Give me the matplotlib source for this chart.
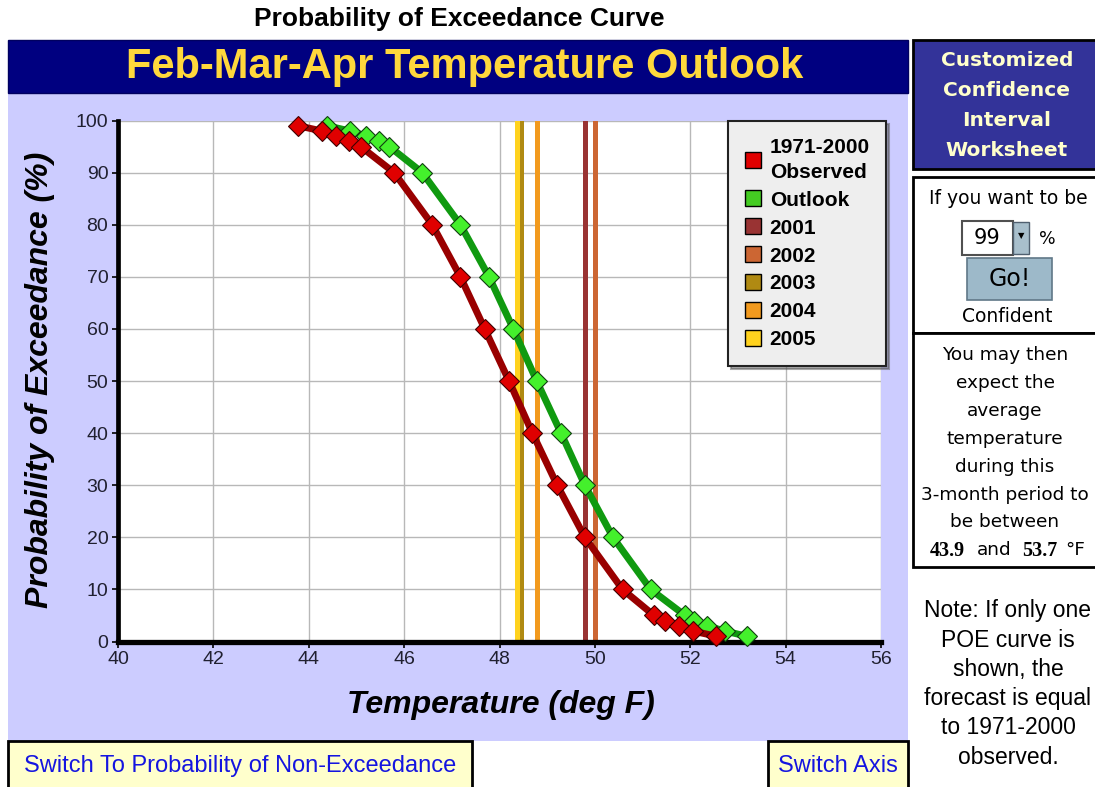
import matplotlib
matplotlib.use('Agg')
import matplotlib.pyplot as plt
from matplotlib.patches import Rectangle, Patch
from matplotlib import font_manager

# ---- data ----
poe_levels = [99, 98, 97, 96, 95, 90, 80, 70, 60, 50, 40, 30, 20, 10, 5, 4, 3, 2, 1]
observed_temps = [43.77, 44.27, 44.57, 44.85, 45.09, 45.79, 46.59, 47.18, 47.69, 48.20,
                  48.69, 49.21, 49.79, 50.58, 51.24, 51.47, 51.77, 52.06, 52.55]
outlook_temps = [44.38, 44.86, 45.21, 45.48, 45.69, 46.38, 47.18, 47.78, 48.29, 48.78,
                 49.29, 49.79, 50.38, 51.17, 51.89, 52.08, 52.35, 52.73, 53.19]
years = ['2001', '2002', '2003', '2004', '2005']
year_temps = [49.79, 50.0, 48.46, 48.78, 48.36]
year_colors = ['#993333', '#CC6633', '#B08A12', '#F29A1E', '#FFD21E']
x_ticks = list(range(40, 57, 2))
y_ticks = list(range(0, 101, 10))

W, H = 1095, 787
names = {f.name for f in font_manager.fontManager.ttflist}
narrow = ['Liberation Sans Narrow', 'Liberation Sans'] if 'Liberation Sans Narrow' in names else ['Liberation Sans']
sans = ['Liberation Sans', 'DejaVu Sans']
wide = ['DejaVu Sans']


def fx(px):
    return px / W


def fy(py):
    return 1 - py / H


def box(x0, y0, x1, y1, fc, ec='black', lw=1.5, z=-5):
    fig.patches.append(Rectangle((fx(x0), fy(y1)), fx(x1) - fx(x0), fy(y0) - fy(y1),
                                 transform=fig.transFigure, facecolor=fc, edgecolor=ec,
                                 linewidth=lw, zorder=z))


def txt(px, py, s, size=11, **kw):
    kw.setdefault('ha', 'center')
    kw.setdefault('va', 'center')
    kw.setdefault('family', sans)
    fig.text(fx(px), fy(py), s, fontsize=size, **kw)


fig = plt.figure(figsize=(W / 100, H / 100), dpi=100)
fig.patch.set_facecolor('white')

# panels
box(8, 93, 908, 741, '#CCCCFF', ec='none', lw=0)
box(8, 40, 908, 93, '#000080', ec='#000060', lw=1)
txt(459, 19, 'Probability of Exceedance Curve', size=19, weight='bold', family=narrow)
txt(465, 67, 'Feb-Mar-Apr Temperature Outlook', size=30, weight='bold', color='#FFD83C')

# main plot
ax = fig.add_axes([fx(118), fy(641.5), fx(881) - fx(118), (641.5 - 120.5) / H])
ax.set_facecolor('white')
for t, c in zip(year_temps, year_colors):
    ax.axvline(t, color=c, lw=3.6, zorder=2)
ax.plot(observed_temps, poe_levels, color='#990000', lw=5, marker='D', ms=10.5,
        mfc='#E00000', mec='#400000', mew=0.8, zorder=4, clip_on=False)
ax.plot(outlook_temps, poe_levels, color='#109A10', lw=5, marker='D', ms=10.5,
        mfc='#44F02C', mec='#104010', mew=0.8, zorder=3, clip_on=False)
ax.set_xlim(40, 56)
ax.set_ylim(0, 100)
ax.set_xticks(x_ticks)
ax.set_yticks(y_ticks)
ax.grid(True, color='#B8B8B8', lw=1)
ax.set_axisbelow(True)
for s in ['top', 'right']:
    ax.spines[s].set_visible(False)
ax.spines['left'].set_linewidth(3.4)
ax.spines['bottom'].set_linewidth(3.8)
ax.tick_params(direction='out', length=4, width=1.2, labelsize=14, pad=3,
               labelcolor='#202030')
for lab in ax.get_xticklabels() + ax.get_yticklabels():
    lab.set_family(narrow)

handles = [Patch(fc='#E00000', ec='black', label='1971-2000\nObserved'),
           Patch(fc='#44CC22', ec='black', label='Outlook')]
handles += [Patch(fc=c, ec='black', label=y) for y, c in zip(years, year_colors)]
leg = ax.legend(handles=handles, loc='upper left', bbox_to_anchor=(fx(728), fy(121)),
                bbox_transform=fig.transFigure, borderaxespad=0, fancybox=False,
                shadow={'color': '#555555'}, facecolor='#EEEEEE', edgecolor='#222222',
                framealpha=1, prop={'family': sans, 'weight': 'bold', 'size': 15},
                handlelength=0.8, handleheight=0.8, handletextpad=0.4, labelspacing=0.42,
                borderpad=0.8)
leg.get_texts()[0].set_linespacing(1.4)
leg.get_frame().set_linewidth(1.5)
leg.set_zorder(10)

fig.text(fx(40), fy(380), 'Probability of Exceedance (%)', rotation=90, ha='center',
         va='center', fontsize=23, weight='bold', style='italic', family=sans)
fig.text(fx(501), fy(705), 'Temperature (deg F)', ha='center', va='center',
         fontsize=23, weight='bold', style='italic', family=narrow)

# bottom buttons
box(8, 741, 472, 800, '#FFFFCC', lw=2)
txt(240, 766, 'Switch To Probability of Non-Exceedance', size=17, color='#1515E0', family=narrow)
box(768, 741, 908, 800, '#FFFFCC', lw=2)
txt(838, 766, 'Switch Axis', size=17, color='#1515E0', family=narrow)

# right worksheet
box(913, 40, 1100, 169, '#333399', lw=2)
for i, s in enumerate(['Customized', 'Confidence', 'Interval', 'Worksheet']):
    txt(1007, 61 + 30 * i, s, size=14.5, weight='bold', color='#FFFFCC', family=wide)
box(913, 177, 1100, 333, 'white', lw=2)
txt(1008, 199, 'If you want to be', size=13.5, family=wide)
box(962, 221, 1013, 255, 'white', ec='#505050', lw=1.5)
box(1013, 222, 1029, 254, '#A8BFCC', ec='#506070', lw=1)
txt(987, 238, '99', size=15, family=wide)
txt(1021, 236, '\u25BC', size=6, family=wide)
txt(1047, 239, '%', size=12.5, family=wide)
box(967, 258, 1052, 300, '#9DB9C9', ec='#607888', lw=1.2)
txt(1010, 279, 'Go!', size=17, family=wide)
txt(1007, 316, 'Confident', size=13.5, family=wide)
box(913, 333, 1100, 567, 'white', lw=2)
lines = ['You may then', 'expect the', 'average', 'temperature', 'during this',
         '3-month period to', 'be between']
for i, s in enumerate(lines):
    txt(1005, 355 + 27.9 * i, s, size=13.3, family=wide)
txt(947.5, 551, '43.9', size=14.5, weight='bold', family=['Liberation Serif'])
txt(994.5, 550, 'and', size=13.3, family=wide)
txt(1039.5, 551, '53.7', size=14.5, weight='bold', family=['Liberation Serif'])
txt(1075, 550, '\u00b0F', size=13.3, family=wide)
note = ['Note: If only one', 'POE curve is', 'shown, the', 'forecast is equal',
        'to 1971-2000', 'observed.']
for i, s in enumerate(note):
    txt(1008, 611 + 29.2 * i, s, size=16.5)

fig.savefig('out.png', dpi=100)
